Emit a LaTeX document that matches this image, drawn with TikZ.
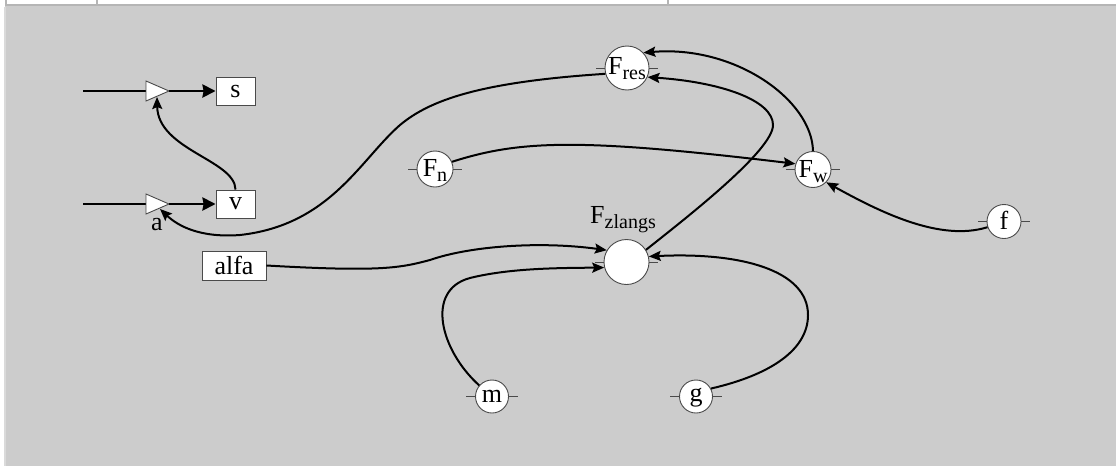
\documentclass[tikz,border=0pt]{standalone}
\usepackage{fontspec}
\setmainfont{Liberation Serif}
\usetikzlibrary{arrows.meta}
\definecolor{bgfill}{HTML}{CCCCCC}
\definecolor{framec}{HTML}{B5B5B5}
\definecolor{framel}{HTML}{DADADA}
\definecolor{edgec}{HTML}{4A4A4A}
\newcommand\sbs[1]{\raisebox{-5pt}{\fontsize{20}{20}\selectfont #1}}
\begin{document}
\begin{tikzpicture}[x=1pt,y=-1pt,
  every node/.style={font=\fontsize{26}{26}\selectfont},
  blk/.style={draw=edgec, line width=0.9pt, fill=white, minimum height=28pt, inner sep=0pt},
  port/.style={draw=edgec, line width=0.9pt, fill=white, circle, inner sep=0pt},
  txt/.style={anchor=base, inner sep=0pt},
  stub/.style={draw=edgec, line width=0.9pt},
  tri/.style={draw=edgec, line width=0.9pt, fill=white},
  wire/.style={line width=2pt, -{Stealth[length=12pt,width=10pt,inset=2pt]}},
  bigwire/.style={line width=2.8pt},
  bigarrow/.style={line width=2.8pt, -{Stealth[length=13pt,width=13pt,inset=1pt]}}
]
\useasboundingbox (0,0) rectangle (1116,466);
% frame
\fill[white] (0,0) rectangle (1116,466);
\fill[bgfill] (5,6) rectangle (1116,466);
\draw[framel, line width=2pt] (5,7) -- (5,466);
\draw[framec, line width=1.5pt] (5,5.2) -- (1116,5.2);
\foreach \xx in {6,97,668} \draw[framec, line width=1.5pt] (\xx,0) -- (\xx,5.2);

% integrators
\coordinate (in1) at (83,91);
\coordinate (in2) at (83,204);
\coordinate (t1in) at (146,91);
\coordinate (t1out) at (169,91);
\coordinate (t1bot) at (157,97);
\coordinate (t2in) at (146,204);
\coordinate (t2out) at (169,204);
\coordinate (t2bot) at (160,209);
\draw[bigwire] (in1) -- (t1in);
\draw[bigwire] (in2) -- (t2in);
\draw[tri] (146,81) -- (146,101) -- (169,91) -- cycle;
\draw[tri] (146,194) -- (146,214) -- (169,204) -- cycle;

\node[blk, minimum width=39pt] (s) at (235.5,91) {s};
\node[blk, minimum width=39pt] (v) at (235.5,204) {v};
\node[blk, minimum width=64pt, minimum height=29pt] (alfa) at (234,265.5) {alfa};
\node[txt] (alab) at (157,230) {a};

\draw[bigarrow] (t1out) -- (s.west);
\draw[bigarrow] (t2out) -- (v.west);

% circles
\node[port, minimum size=44pt] (fres) at (627,68) {};
\node[port, minimum size=45pt] (fz) at (626.5,262) {};
\node[port, minimum size=36pt] (fn) at (435,169) {};
\node[port, minimum size=36pt] (fw) at (813,169.5) {};
\node[port, minimum size=34pt] (f) at (1004,221.5) {};
\node[port, minimum size=33pt] (m) at (492,396.5) {};
\node[port, minimum size=33pt] (g) at (696,396.5) {};
\foreach \n in {fres,fz,fn,fw,f,m,g}{
  \draw[stub] (\n.west) -- ++(-9,0);
  \draw[stub] (\n.east) -- ++(9,0);
}
\node[txt] (fres-t) at (627,74.5) {F\sbs{res}};
\node[txt] (fz-t) at (623,223.5) {F\sbs{zlangs}};
\node[txt] (fn-t) at (435,176.5) {F\sbs{n}};
\node[txt] (fw-t) at (813,177) {F\sbs{w}};
\node[txt] (f-t) at (1004,229.5) {f};
\node[txt] (m-t) at (492,402.5) {m};
\node[txt] (g-t) at (696,401.5) {g};

% connectors
\draw[wire] (v.north) .. controls (235,160) and (158,150) .. (t1bot);
\draw[wire] (fres.195) .. controls (480,82) and (430,100) .. (400,125)
  .. controls (360,160) and (330,225) .. (240,235)
  .. controls (200,238) and (178,226) .. (t2bot);
\draw[wire] (fw.north) .. controls (812,100) and (735,45) .. (fres.43);
\draw[wire] (fz.32) .. controls (690,215) and (773,150) .. (773,125)
  .. controls (773,100) and (720,82) .. (fres.-24);
\draw[wire] (fn.23) .. controls (520,140) and (580,138) .. (fw.162);
\draw[wire] (f.199) .. controls (940,242) and (880,212) .. (fw.-44);
\draw[wire] (alfa.east) .. controls (380,272) and (400,268) .. (430,260)
  .. controls (470,246) and (540,241) .. (fz.149);
\draw[wire] (m.139) .. controls (440,350) and (425,290) .. (470,278)
  .. controls (510,268) and (560,268) .. (fz.194);
\draw[wire] (g.28) .. controls (770,375) and (808,350) .. (808,315)
  .. controls (808,270) and (740,252) .. (fz.14);
\end{tikzpicture}
\end{document}
